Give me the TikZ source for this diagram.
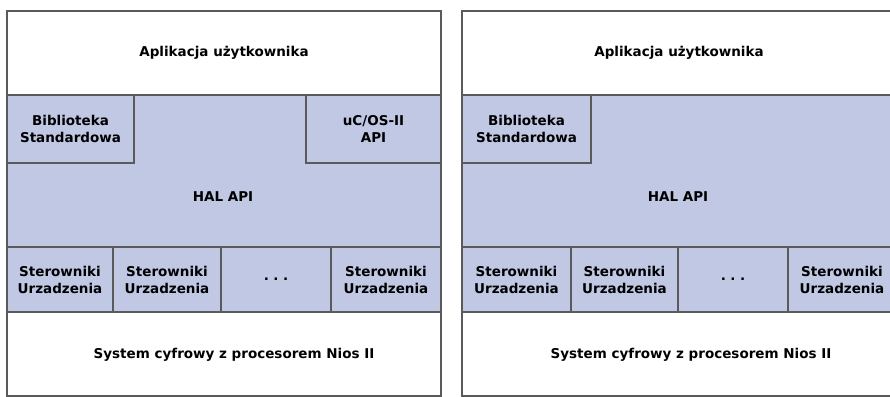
\documentclass[tikz,border=0pt]{standalone}
\usepackage{fontspec}
\setmainfont{DejaVu Sans}
\definecolor{halblue}{RGB}{192,200,228}
\definecolor{edge}{RGB}{90,90,90}
\tikzset{
  cell/.style={draw=edge, line width=2pt, inner sep=0pt, anchor=north west, align=center,
    font=\bfseries\fontsize{13.5}{17}\selectfont},
  bluecell/.style={cell, fill=halblue},
  whitecell/.style={cell, fill=white},
  txt/.style={inner sep=0pt, align=center, font=\bfseries\fontsize{13.5}{17}\selectfont}
}
\begin{document}
\begin{tikzpicture}[x=1pt,y=-1pt]
\useasboundingbox (0,0) rectangle (890,396);
\begin{scope}
\clip (0,0) rectangle (890,396);
% ---------- left panel ----------
\node[bluecell, minimum width=434pt, minimum height=152pt] (Lhal) at (6,94) {};
\node[txt] (Lhaltxt) at (223,197) {HAL API};
\node[whitecell, minimum width=434pt, minimum height=84pt] (Lapp) at (6,10) {Aplikacja użytkownika};
\node[bluecell, minimum width=127pt, minimum height=68pt] (Lbib) at (6,94) {Biblioteka\\Standardowa};
\node[bluecell, minimum width=135pt, minimum height=68pt] (Luc) at (305,94) {uC/OS-II\\API};
\node[bluecell, minimum width=106pt, minimum height=65pt] (Ld1) at (6,246) {Sterowniki\\Urzadzenia};
\node[bluecell, minimum width=108pt, minimum height=65pt] (Ld2) at (112,246) {Sterowniki\\Urzadzenia};
\node[bluecell, minimum width=110pt, minimum height=65pt] (Ld3) at (220,246) {.\,\,.\,\,.};
\node[bluecell, minimum width=110pt, minimum height=65pt] (Ld4) at (330,246) {Sterowniki\\Urzadzenia};
\node[whitecell, minimum width=434pt, minimum height=84pt] (Lsys) at (6,311) {};
\node[txt] (Lsystxt) at (234,355) {System cyfrowy z procesorem Nios II};
% ---------- right panel ----------
\node[bluecell, minimum width=434pt, minimum height=152pt] (Rhal) at (461,94) {};
\node[txt] (Rhaltxt) at (678,197) {HAL API};
\node[whitecell, minimum width=434pt, minimum height=84pt] (Rapp) at (461,10) {Aplikacja użytkownika};
\node[bluecell, minimum width=129pt, minimum height=68pt] (Rbib) at (461,94) {Biblioteka\\Standardowa};
\node[bluecell, minimum width=109pt, minimum height=65pt] (Rd1) at (461,246) {Sterowniki\\Urzadzenia};
\node[bluecell, minimum width=107pt, minimum height=65pt] (Rd2) at (570,246) {Sterowniki\\Urzadzenia};
\node[bluecell, minimum width=110pt, minimum height=65pt] (Rd3) at (677,246) {.\,\,.\,\,.};
\node[bluecell, minimum width=108pt, minimum height=65pt] (Rd4) at (787,246) {Sterowniki\\Urzadzenia};
\node[whitecell, minimum width=434pt, minimum height=84pt] (Rsys) at (461,311) {};
\node[txt] (Rsystxt) at (691,355) {System cyfrowy z procesorem Nios II};
\end{scope}
\end{tikzpicture}
\end{document}
